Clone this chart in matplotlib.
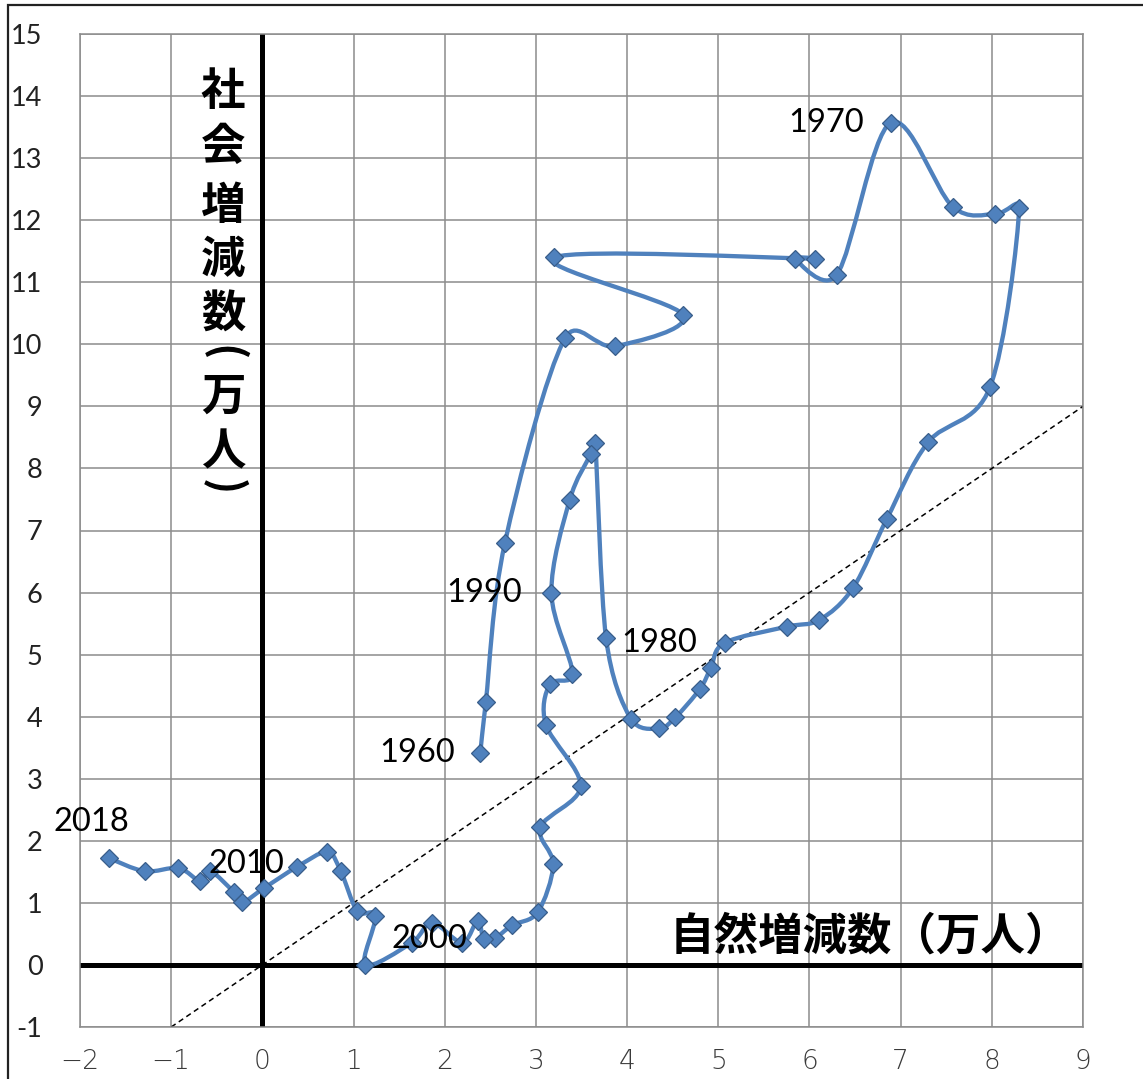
import numpy as np
import matplotlib.pyplot as plt
from matplotlib.path import Path
from matplotlib.patches import PathPatch, Rectangle

# 自然増減数 / 社会増減数 (万人), 1960-2018
years = list(range(1960, 2019))
natural = [2.39, 2.45, 2.66, 3.32, 3.87, 4.61, 3.20, 6.06, 5.84, 6.30,
           6.89, 7.57, 8.04, 8.30, 7.98, 7.30, 6.85, 6.48, 6.11, 5.75,
           5.07, 4.92, 4.80, 4.53, 4.35, 4.04, 3.77, 3.65, 3.60, 3.37,
           3.17, 3.40, 3.15, 3.11, 3.49, 3.05, 3.19, 3.02, 2.74, 2.55,
           2.43, 2.36, 2.19, 1.86, 1.64, 1.13, 1.24, 1.04, 0.86, 0.71,
           0.38, 0.02, -0.22, -0.31, -0.57, -0.68, -0.92, -1.29, -1.68]
social = [3.42, 4.23, 6.80, 10.10, 9.97, 10.48, 11.40, 11.38, 11.38, 11.12,
          13.57, 12.22, 12.10, 12.20, 9.31, 8.42, 7.19, 6.08, 5.56, 5.45,
          5.19, 4.79, 4.45, 3.99, 3.81, 3.97, 5.26, 8.41, 8.23, 7.49,
          6.00, 4.69, 4.52, 3.87, 2.88, 2.22, 1.62, 0.85, 0.64, 0.43,
          0.42, 0.71, 0.36, 0.68, 0.36, 0.00, 0.79, 0.87, 1.51, 1.82,
          1.58, 1.24, 1.01, 1.17, 1.51, 1.35, 1.56, 1.51, 1.72]

label_years = [1960, 1970, 1980, 1990, 2000, 2010, 2018]
ref_line = [-1, 9]          # y = x
x_ticks = list(range(-2, 10))
y_ticks = list(range(-1, 16))
x_title = "自然増減数（万人）"
y_title = "社会増減数(万人)"

blue = "#4F81BD"
blue_edge = "#385D8A"
grid_c = "#8c8c8c"

fig = plt.figure(figsize=(11.43, 10.79), dpi=100)
ax = fig.add_axes([80/1143, 1-1027/1079, 1003/1143, 993/1079])
ax.set_xlim(x_ticks[0], x_ticks[-1])
ax.set_ylim(y_ticks[0], y_ticks[-1])

# border of the whole picture (right/bottom edges are cut off in the original)
fig.patches.append(Rectangle((8/1143, -0.1), 2, 1.1 - 5/1079, transform=fig.transFigure,
                             fill=False, ec="#222222", lw=1.6))

ax.set_xticks(x_ticks)
ax.set_yticks(y_ticks)
ax.set_xticklabels([str(v).replace("-", "−") for v in x_ticks],
                   family="DejaVu Sans", fontweight="light", fontsize=19, color="#3a3a3a")
ax.set_yticklabels([str(v) for v in y_ticks], family="Lato", fontsize=19.5, color="#222222")
ax.tick_params(axis="x", length=0, pad=16)
ax.tick_params(axis="y", length=0, pad=27)
ax.grid(True, color=grid_c, lw=1.1)
ax.set_axisbelow(True)
for s in ax.spines.values():
    s.set_color(grid_c)
    s.set_linewidth(1.1)

ax.axhline(0, color="black", lw=3.6, zorder=1.5)
ax.axvline(0, color="black", lw=3.6, zorder=1.5)
ax.plot(ref_line, ref_line, color="black", lw=1.1, ls=(0, (3.5, 2.5)), zorder=1.6)

# smoothed line like Excel (bezier, control arms limited to half segment)
fig.canvas.draw()
pts = ax.transData.transform(np.column_stack([natural, social]))
n = len(pts)
verts = [pts[0]]
codes = [Path.MOVETO]
for i in range(n - 1):
    p0 = pts[max(i - 1, 0)]
    p1 = pts[i]
    p2 = pts[i + 1]
    p3 = pts[min(i + 2, n - 1)]
    d12 = np.hypot(*(p2 - p1))
    d02 = np.hypot(*(p2 - p0))
    d13 = np.hypot(*(p3 - p1))
    f1 = 1/6 if d02/6 < d12/2 else (d12/2/d02 if d02 > 0 else 0)
    f2 = 1/6 if d13/6 < d12/2 else (d12/2/d13 if d13 > 0 else 0)
    verts += [p1 + f1*(p2 - p0), p2 - f2*(p3 - p1), p2]
    codes += [Path.CURVE4]*3
verts = ax.transData.inverted().transform(np.array(verts))
ax.add_patch(PathPatch(Path(verts, codes), fill=False, ec=blue, lw=3.1,
                       zorder=3, capstyle="round", joinstyle="round"))

ax.plot(natural, social, ls="none", marker="D", ms=9.5, mfc=blue, mec=blue_edge,
        mew=0.9, zorder=4)

# year labels
label_offsets = {1960: (-18, 0), 1970: (-19, 0), 1980: (-20, 0), 1990: (-21, 0),
                 2000: (-12, 0), 2010: (-9, 2), 2018: (-13, 26)}
for yr in label_years:
    i = years.index(yr)
    dx, dy = label_offsets[yr]
    ax.annotate(str(yr), (natural[i], social[i]), xytext=(dx, dy), textcoords="offset points",
                ha="center" if yr == 2018 else "right", va="center",
                family="Lato", fontsize=23.5, color="black", zorder=5)

# axis titles
cjk = ["Noto Sans CJK JP", "DejaVu Sans"]
fig.text(1070/1143, 1-937/1079, x_title, ha="right", va="center",
         family=cjk, fontweight="bold", fontsize=32)
# vertical title: one character per row, brackets turned
row_y = [92, 147, 206, 260, 315, 353, 397, 452, 487]
for ch, yy in zip(y_title, row_y):
    if ch in "()":
        fig.text(223/1143, 1-yy/1079, ch, ha="center", va="center", rotation=-90,
                 rotation_mode="anchor", family=cjk, fontweight="bold", fontsize=31)
    else:
        fig.text(223/1143, 1-yy/1079, ch, ha="center", va="center",
                 family=cjk, fontweight="bold", fontsize=32)

fig.savefig("out.png", dpi=100, facecolor="white")
